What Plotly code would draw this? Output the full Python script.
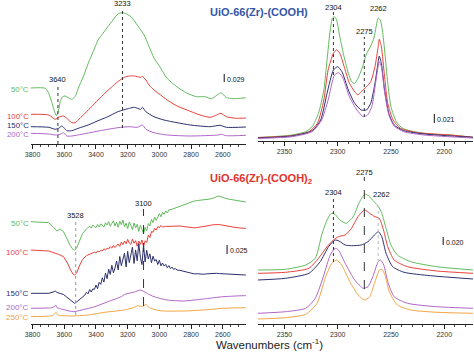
import plotly.graph_objects as go

# ======================= DATA (stacked absorbance, a.u.) =======================
# ---- Top-left: UiO-66(Zr)-(COOH), OH region ----
TLG_WN = [3812, 3719, 3698, 3677, 3661, 3650, 3636, 3626, 3611, 3594, 3574, 3553, 3532, 3512, 3480, 3449,
          3418, 3387, 3356, 3325, 3293, 3262, 3237, 3221, 3179, 3140, 3096, 3065, 3034, 2992, 2953, 2890,
          2828, 2766, 2712, 2672, 2629, 2610, 2579, 2535, 2454]
TLG_A = [56, 55.7, 50.7, 40.7, 32.3, 28.3, 34, 42.3, 47.3, 48, 46.3, 44.7, 47.3, 55.7, 67.3, 80.7,
         92.3, 104, 110.7, 117.3, 124, 130, 131.3, 131, 127.3, 119, 109, 97.3, 86, 76, 66, 57.3,
         51, 47.3, 47.3, 45.3, 49.7, 51.3, 46.7, 45.3, 46.3]
TLR_WN = [3812, 3698, 3657, 3636, 3605, 3584, 3553, 3532, 3501, 3470, 3428, 3387, 3345, 3303, 3262, 3221,
          3189, 3158, 3117, 3107, 3085, 3065, 3034, 2992, 2951, 2888, 2826, 2743, 2680, 2639, 2612, 2577,
          2515, 2452]
TLR_A = [29.7, 29, 24.7, 26.7, 28, 25.7, 21.3, 21.3, 25.7, 30.7, 37.3, 44, 50.7, 56.7, 62.3, 66.7,
         68, 68, 66.7, 67.5, 64, 59, 54, 49, 44, 38, 34, 29, 26.7, 29, 30.7, 27.3,
         25.7, 26]
TLN_WN = [3812, 3698, 3657, 3636, 3615, 3599, 3584, 3553, 3512, 3449, 3387, 3325, 3262, 3189, 3158, 3117,
          3107, 3085, 3034, 2971, 2888, 2805, 2680, 2618, 2577, 2452]
TLN_A = [17.3, 16.7, 14.7, 15.7, 18, 15.7, 13.3, 13.3, 15.7, 19, 23.3, 27.3, 32.3, 35.7, 36.7, 34.7,
         36.7, 32.3, 27.3, 24, 21.3, 19, 17.3, 18.7, 16.7, 17]
TLP_WN = [3812, 3698, 3657, 3626, 3605, 3584, 3553, 3490, 3407, 3325, 3262, 3189, 3138, 3107, 3085, 3034,
          2951, 2805, 2629, 2608, 2577, 2452]
TLP_A = [10.7, 10, 9, 9.7, 11.3, 8, 8, 9.7, 12.3, 14.7, 16.3, 17.3, 16.7, 19, 14.7, 11.3,
         9, 8, 9, 9.7, 8.3, 8.7]

# ---- Top-right: UiO-66(Zr)-(COOH), CD3CN region ----
TRG_WN = [2375, 2361, 2343, 2330, 2324, 2318, 2313, 2310, 2307, 2305, 2303, 2301, 2298, 2294, 2290, 2287,
          2284, 2281, 2277, 2273, 2269, 2266, 2264, 2262, 2260, 2258, 2256, 2253, 2250, 2245, 2239, 2228,
          2213, 2194, 2173]
TRG_A = [3.5, 4.3, 6, 9.3, 14.3, 27.7, 51, 81, 111, 122.7, 124.3, 121, 104.3, 84.3, 67.7, 59.3,
         57.7, 62.7, 73, 87, 95, 103, 114, 123, 121, 110, 91, 57.7, 34.3, 19.3, 12.7, 9.3,
         7, 6, 3.7]
TRR_WN = [2375, 2343, 2327, 2319, 2313, 2309, 2304, 2301, 2298, 2293, 2289, 2284, 2281, 2278, 2273, 2269,
          2265, 2262, 2261, 2259, 2256, 2253, 2248, 2241, 2225, 2194, 2173]
TRR_A = [3.5, 5.3, 9.3, 17.7, 41, 71, 87.7, 91, 87.7, 71, 57.7, 49.3, 46, 49.3, 54.3, 59.3,
         74.3, 94.3, 101.7, 94.3, 64.3, 37.7, 21, 12.7, 8.3, 6, 3.7]
TRN_WN = [2375, 2343, 2324, 2316, 2310, 2304, 2300, 2296, 2290, 2284, 2278, 2273, 2269, 2265, 2262, 2261,
          2259, 2256, 2252, 2247, 2238, 2219, 2173]
TRN_A = [3, 5, 10.3, 21, 47.7, 71, 74.3, 69.3, 51, 37.7, 31, 31, 37.7, 57.7, 79.3, 85,
         77.7, 51, 27.7, 16, 10.3, 7, 3.7]
TRP_WN = [2375, 2343, 2324, 2315, 2309, 2303, 2299, 2295, 2289, 2282, 2276, 2272, 2268, 2264, 2261, 2259,
          2256, 2252, 2247, 2238, 2219, 2173]
TRP_A = [2.5, 4.3, 9.3, 21, 41, 66, 68.3, 62.7, 44.3, 31, 24.3, 26, 34.3, 61, 79.3, 74.3,
         49.3, 26, 15, 9.3, 6, 3]

# ---- Bottom-left: UiO-66(Zr)-(COOH)2, OH region ----
BLG_WN = [3812, 3698, 3667, 3646, 3626, 3605, 3585, 3565, 3545, 3535, 3522, 3505, 3485, 3460, 3450,
          3440, 3430, 3420, 3410, 3400, 3390, 3380, 3370, 3360, 3350, 3340, 3330, 3320, 3310, 3300, 3290,
          3280, 3270, 3260, 3250, 3240, 3230, 3220, 3210, 3200, 3190, 3180, 3170, 3160, 3150, 3140, 3130,
          3120, 3110, 3100, 3090, 3080, 3070, 3060, 3050, 3040, 3030, 3020, 3010, 3000, 2990, 2980, 2970,
          2960, 2950, 2940,
          2920, 2900, 2875, 2850, 2825, 2805, 2780, 2760, 2740, 2722, 2700, 2680, 2650, 2629, 2610, 2598,
          2580, 2560, 2535, 2510, 2490, 2454]
BLG_A = [102.3, 101.3, 96.5, 93, 95, 92.3, 86, 79, 74.5, 74, 76, 83, 90.5, 95, 96.2,
         97.8, 96.0, 98.9, 97.6, 96.3, 99.5, 97.1, 100.2, 98.7, 96.9, 101.3, 99.0, 102.4, 97.8, 100.6, 103.1,
         98.0, 101.9, 96.7, 102.8, 99.3, 104.0, 97.2, 100.8, 95.4, 102.1, 98.6, 94.3, 101.0, 96.2, 99.7, 92.5,
         98.8, 93.9, 90.6, 96.7, 93.2, 100.5, 98.1, 104.6, 101.4, 107.0, 103.6, 106.8, 110.4, 107.2, 111.9, 109.6,
         113.2, 111.0, 114.2,
         114.8, 116, 118, 119.5, 121, 122.3, 123, 123.5, 123.8, 124, 124.4, 125, 126.5, 128, 127.2, 126.3,
         125.5, 124.8, 124, 123.2, 122.7, 122]
BLR_WN = [3812, 3698, 3657, 3636, 3605, 3580, 3560, 3545, 3535, 3522, 3505, 3485, 3460, 3430, 3420,
          3410, 3400, 3390, 3380, 3370, 3360, 3350, 3340, 3330, 3320, 3310, 3300, 3290, 3280, 3270, 3260,
          3250, 3240, 3230, 3220, 3210, 3200, 3190, 3180, 3170, 3160, 3150, 3140, 3130, 3120, 3110, 3100,
          3090, 3080, 3070, 3060, 3050, 3040, 3030, 3020, 3010, 3000, 2990, 2980,
          2960, 2940, 2915, 2888, 2870, 2850, 2825, 2805, 2780, 2760, 2740, 2722, 2700, 2680, 2660, 2639,
          2620, 2600, 2580, 2556, 2530, 2500, 2475, 2454]
BLR_A = [74, 73, 70.7, 69.7, 67.3, 61, 54, 50, 49, 51, 58, 64.5, 68.5, 70.5, 71,
         71.8, 71.0, 72.9, 72.1, 73.6, 73.0, 75.2, 73.8, 75.9, 75.0, 77.4, 75.8, 78.6, 76.4, 78.0, 80.1,
         77.6, 81.9, 79.3, 83.0, 80.2, 84.6, 81.0, 79.6, 84.9, 80.7, 83.4, 77.8, 82.9, 79.6, 84.0, 77.5,
         83.2, 81.4, 88.9, 86.3, 92.4, 91.8, 95.6, 93.9, 97.5, 96.2, 98.6, 96.9,
         97.6, 97.8, 98.0, 98.3, 98.0, 97.5, 96.8, 96.3, 96.2, 96.5, 96.9, 97.3, 98.0, 98.6, 99.3, 99.7,
         99.4, 98.8, 98.1, 97.3, 96.8, 96.2, 95.8, 95.5]
BLN_WN = [3812, 3740, 3698, 3670, 3657, 3645, 3626, 3605, 3585, 3563, 3545, 3535, 3522, 3505, 3480, 3470,
          3460, 3450, 3440, 3430, 3420, 3410, 3400, 3390, 3380, 3370, 3360, 3350, 3340, 3330, 3320, 3310,
          3300, 3290, 3280, 3270, 3260, 3250, 3240, 3230, 3220, 3210, 3200, 3190, 3180, 3170, 3160, 3150,
          3140, 3130, 3120, 3110, 3100, 3090, 3080, 3070, 3060, 3050, 3040, 3030, 3020, 3010, 3000, 2990,
          2980, 2970, 2960, 2950, 2940, 2930, 2920, 2910, 2900,
          2888, 2870, 2850, 2825, 2805, 2780, 2760, 2740, 2722, 2700, 2680, 2660, 2639, 2620, 2600, 2580,
          2556, 2530, 2510, 2480, 2454]
BLN_A = [30.7, 30.5, 30.7, 32, 33, 31.5, 30.7, 29.5, 27, 24, 21.5, 20.7, 22, 24.5, 27.3, 29,
         31.8, 30.2, 34.5, 32.0, 35.1, 34.6, 38.9, 35.3, 41.7, 39.6, 46.2, 42.0, 50.9, 45.3, 54.8, 49.6,
         58.7, 51.2, 56.0, 62.9, 54.1, 67.5, 58.3, 64.7, 70.9, 57.0, 72.6, 61.4, 68.3, 76.8, 60.5, 74.1,
         63.2, 80.3, 66.8, 59.4, 78.6, 62.1, 73.7, 64.9, 70.2, 61.3, 67.8, 63.0, 64.4, 59.5, 63.8, 58.1,
         61.0, 57.9, 59.6, 56.2, 58.4, 55.3, 56.9, 54.6, 55.5,
         54, 53.6, 52.8, 51.6, 50.7, 50.1, 50.3, 49.9, 49.7, 50.2, 50.5, 51.0, 50.7, 50.4, 50.2, 50.0,
         50.3, 49.9, 49.6, 49.3, 49]
BLP_WN = [3812, 3700, 3677, 3662, 3655, 3645, 3630, 3594, 3543, 3490, 3407, 3325, 3241, 3221, 3158, 3117,
          3096, 3070, 3034, 2951, 2847, 2722, 2598, 2473, 2454]
BLP_A = [15.7, 16, 16.3, 17.5, 19, 16.3, 15.5, 14, 12.3, 14, 17.3, 22.3, 27.3, 29.5, 32, 34,
         32.3, 30, 27.3, 24, 23, 25, 27.3, 28.3, 28.3]
BLO_WN = [3812, 3700, 3677, 3662, 3652, 3640, 3620, 3553, 3449, 3345, 3221, 3160, 3138, 3120, 3107, 3085,
          3070, 3054, 3020, 2971, 2847, 2722, 2598, 2473, 2454]
BLO_A = [7.3, 7.8, 8.3, 10, 11.7, 9, 8.5, 8, 9, 11.7, 14, 16.5, 18.3, 17.8, 17.3, 19.7,
         17, 15.7, 14, 13, 13, 14, 15.7, 16.3, 16.3]

# ---- Bottom-right: UiO-66(Zr)-(COOH)2, CD3CN region ----
BRG_WN = [2375, 2349, 2330, 2321, 2315, 2310, 2306, 2302.5, 2298, 2292, 2285.5, 2279.4, 2274.7, 2271, 2266,
          2262.3, 2258.6, 2254.6, 2250, 2244, 2231.5, 2207, 2173]
BRG_A = [54, 54.7, 59, 65.7, 89, 104, 110.7, 109.7, 104, 100.7, 107.3, 122.3, 129.7, 128.3, 122.3,
         118.3, 110.7, 95.7, 79, 69, 62.3, 57.3, 54]
BRR_WN = [2375, 2349, 2327, 2318, 2310, 2304, 2299.4, 2293, 2287, 2281, 2274.7, 2270, 2265, 2261, 2257,
          2253, 2247, 2234.5, 2207, 2173]
BRR_A = [50.7, 51.7, 55.7, 65.7, 77.3, 84, 87.3, 89, 95.7, 107.3, 114, 110.7, 107.3, 105.7, 94,
         77.3, 64, 57.3, 53, 50.7]
BRN_WN = [2375, 2349, 2327, 2316.4, 2308.6, 2302.5, 2298.8, 2293, 2287, 2278, 2271.6, 2265.5, 2261.8, 2258.6,
          2254.6, 2248.4, 2237.7, 2213, 2173]
BRN_A = [44, 45.7, 50.7, 62.3, 77.3, 84, 83, 79, 78.3, 79, 82.3, 89, 92.3, 87.3,
         70.7, 57.3, 51.7, 48.3, 45]
BRP_WN = [2375, 2349, 2330, 2321, 2313, 2307, 2302.5, 2299.4, 2293, 2284, 2276, 2271.6, 2267, 2262.3, 2259.9,
          2256.8, 2253, 2247, 2234.5, 2207, 2173]
BRP_A = [10.7, 12.3, 15.7, 25.7, 49, 69, 75.7, 74, 60.7, 44, 35.7, 37.3, 47.3, 61.7, 64,
         59, 42.3, 27.3, 20.7, 17.3, 15.7]
BRO_WN = [2375, 2349, 2330, 2319.4, 2311.8, 2305.6, 2300.9, 2296.3, 2288.6, 2280.8, 2274.7, 2270, 2265.5,
          2260.8, 2258.6, 2255.6, 2251.6, 2244, 2231.5, 2207, 2173]
BRO_A = [5, 6.3, 9.7, 20.7, 45.7, 60.7, 64, 59, 42.3, 29, 24, 27.3, 40.7,
         54, 54.7, 49, 32.3, 19, 14, 11.7, 10.7]

TEMPS = ["50°C", "100°C", "150°C", "200°C", "250°C"]
TITLE_TOP = "UiO-66(Zr)-(COOH)"
TITLE_BOT = "UiO-66(Zr)-(COOH)<sub>2</sub>"
SCALES = ["0.029", "0.021", "0.025", "0.020"]
PEAKS_TL = [3640, 3233]
PEAKS_TR = [2304, 2275, 2262]
PEAKS_BL = [3528, 3100]
PEAKS_BR = [2304, 2275, 2262]

# ======================= STYLE =======================
W, H = 474, 352
FONT = "Liberation Sans, Arial, sans-serif"
C_G, C_R, C_N, C_P, C_O = "#62BA5E", "#E8413A", "#2D306E", "#B066C6", "#F2A444"
COLORS = [C_G, C_R, C_N, C_P, C_O]

fig = go.Figure()


def add(wn, a, color, xa, ya, shape="spline"):
    line = dict(color=color, width=1, shape=shape)
    if shape == "spline":
        line["smoothing"] = 0.6
    fig.add_trace(go.Scatter(x=wn, y=a, mode="lines", xaxis=xa, yaxis=ya, line=line,
                             showlegend=False, hoverinfo="skip"))


for wn, a, c in [(TLG_WN, TLG_A, C_G), (TLR_WN, TLR_A, C_R), (TLN_WN, TLN_A, C_N), (TLP_WN, TLP_A, C_P)]:
    add(wn, a, c, "x", "y")
for wn, a, c in [(TRG_WN, TRG_A, C_G), (TRR_WN, TRR_A, C_R), (TRN_WN, TRN_A, C_N), (TRP_WN, TRP_A, C_P)]:
    add(wn, a, c, "x2", "y2")
for wn, a, c, s in [(BLG_WN, BLG_A, C_G, "linear"), (BLR_WN, BLR_A, C_R, "linear"),
                    (BLN_WN, BLN_A, C_N, "linear"), (BLP_WN, BLP_A, C_P, "spline"),
                    (BLO_WN, BLO_A, C_O, "spline")]:
    add(wn, a, c, "x3", "y3", s)
for wn, a, c in [(BRG_WN, BRG_A, C_G), (BRR_WN, BRR_A, C_R), (BRN_WN, BRN_A, C_N), (BRP_WN, BRP_A, C_P),
                 (BRO_WN, BRO_A, C_O)]:
    add(wn, a, c, "x4", "y4")


def xax(domain, rng, anchor, dtick, tick0, mdtick):
    return dict(domain=domain, range=rng, anchor=anchor, showline=True, linecolor="#222", linewidth=1,
                ticks="outside", ticklen=4, tickwidth=1, tickcolor="#222", dtick=dtick, tick0=tick0,
                tickformat="d", tickfont=dict(size=7, color="#333", family=FONT), showgrid=False,
                zeroline=False, fixedrange=True,
                minor=dict(ticks="outside", ticklen=2, tickwidth=1, tickcolor="#444", dtick=mdtick, tick0=tick0))


def yax(domain, rng):
    return dict(domain=domain, range=rng, visible=False, fixedrange=True)


LD = [25 / W, 243 / W]
RD = [255 / W, 473 / W]
TOPD_L = [1 - 144 / H, 1]
TOPD_R = [1 - 141 / H, 1]
BOTD = [1 - 324 / H, 1 - 168 / H]

fig.update_layout(
    width=W, height=H, margin=dict(l=0, r=0, t=0, b=0),
    paper_bgcolor="white", plot_bgcolor="white", showlegend=False,
    xaxis=xax(LD, [3812, 2454], "y", 200, 2600, 50), yaxis=yax(TOPD_L, [0, 144]),
    xaxis2=xax(RD, [2375, 2173], "y2", 50, 2200, 10), yaxis2=yax(TOPD_R, [0, 141]),
    xaxis3=xax(LD, [3812, 2454], "y3", 200, 2600, 50), yaxis3=yax(BOTD, [0, 156]),
    xaxis4=xax(RD, [2375, 2173], "y4", 50, 2200, 10), yaxis4=yax(BOTD, [0, 156]),
)

shapes = []
ann = []


def vline(xr, yr, x, y0, y1, color="#333", dash="dot"):
    shapes.append(dict(type="line", xref=xr, yref=yr, x0=x, x1=x, y0=y0, y1=y1,
                       line=dict(color=color, width=1, dash=dash)))


def text(xr, yr, x, y, s, size=7.5, color="#111", xanchor="center", xshift=0):
    ann.append(dict(xref=xr, yref=yr, x=x, y=y, text=s, showarrow=False, xanchor=xanchor, yanchor="middle",
                    xshift=xshift, font=dict(size=size, color=color, family=FONT)))


# peak marker lines and labels
vline("x", "y", PEAKS_TL[0], 0, 59)
text("x", "y", PEAKS_TL[0], 65, str(PEAKS_TL[0]))
vline("x", "y", PEAKS_TL[1], 16, 135)
text("x", "y", PEAKS_TL[1], 141, str(PEAKS_TL[1]))

vline("x2", "y2", PEAKS_TR[0], 66, 130)
text("x2", "y2", PEAKS_TR[0], 134, str(PEAKS_TR[0]))
vline("x2", "y2", PEAKS_TR[1], 24, 104)
text("x2", "y2", PEAKS_TR[1], 110, str(PEAKS_TR[1]))
text("x2", "y2", PEAKS_TR[2], 133, str(PEAKS_TR[2]))

vline("x3", "y3", PEAKS_BL[0], 9, 104, color="#999")
text("x3", "y3", PEAKS_BL[0], 109, str(PEAKS_BL[0]))
vline("x3", "y3", PEAKS_BL[1], 18, 115, dash="dash")
text("x3", "y3", PEAKS_BL[1], 121, str(PEAKS_BL[1]))

vline("x4", "y4", PEAKS_BR[0], 62, 126)
text("x4", "y4", PEAKS_BR[0], 131.5, str(PEAKS_BR[0]))
vline("x4", "y4", PEAKS_BR[1], 35, 147, dash="dash")
text("x4", "y4", PEAKS_BR[1], 152, str(PEAKS_BR[1]))
vline("x4", "y4", PEAKS_BR[2], 62, 118, color="#bbb")
text("x4", "y4", PEAKS_BR[2], 129.5, str(PEAKS_BR[2]), xshift=3)

# scale bars
for xr, yr, x, y0, y1, s in [("x", "y", 2591, 62, 70, SCALES[0]), ("x2", "y2", 2209.3, 18, 27, SCALES[1]),
                              ("x3", "y3", 2573, 70, 79, SCALES[2]), ("x4", "y4", 2201, 79, 87, SCALES[3])]:
    shapes.append(dict(type="line", xref=xr, yref=yr, x0=x, x1=x, y0=y0, y1=y1,
                       line=dict(color="#111", width=1)))
    text(xr, yr, x, (y0 + y1) / 2 - 1, s, size=7, xanchor="left", xshift=1)

# temperature labels
for t, h, c in zip(TEMPS[:4], [55, 28, 18.5, 9.5], COLORS):
    text("x", "y", 3812, h, t, size=7.8, color=c, xanchor="right", xshift=0)
for t, h, c in zip(TEMPS, [101, 72, 31, 17, 7], COLORS):
    text("x3", "y3", 3812, h, t, size=8, color=c, xanchor="right", xshift=0)

# titles and axis title
ann.append(dict(xref="paper", yref="paper", x=256.5 / W, y=1 - 12 / H, text="<b>" + TITLE_TOP + "</b>",
                showarrow=False, xanchor="center", yanchor="middle",
                font=dict(size=11, color="#3556A6", family="Liberation Sans Narrow, " + FONT)))
ann.append(dict(xref="paper", yref="paper", x=258 / W, y=1 - 179 / H, text="<b>" + TITLE_BOT + "</b>",
                showarrow=False, xanchor="center", yanchor="middle",
                font=dict(size=11, color="#E2322B", family="Liberation Sans Narrow, " + FONT)))
ann.append(dict(xref="paper", yref="paper", x=267 / W, y=1 - 344 / H, text="Wavenumbers (cm<sup>-1</sup>)",
                showarrow=False, xanchor="center", yanchor="middle",
                font=dict(size=11.5, color="#222", family=FONT)))

fig.update_layout(shapes=shapes, annotations=ann)
fig.write_html("out.html")
